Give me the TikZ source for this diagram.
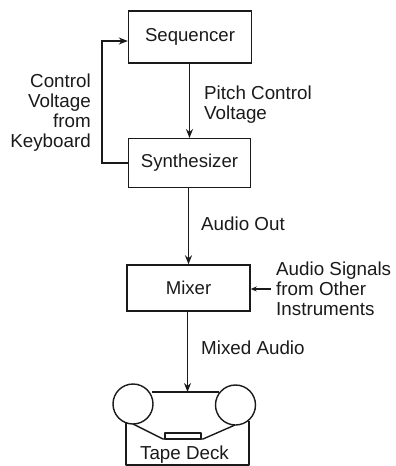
\documentclass[tikz,border=0pt]{standalone}
\usepackage{fontspec}
\setmainfont{Liberation Sans}
\usetikzlibrary{arrows.meta,calc}
\tikzset{
  boxnode/.style={draw=ink,line width=1.4pt,inner sep=0pt,font=\fontsize{18.6}{20}\selectfont,text=ink},
  lab/.style={inner sep=0pt,font=\fontsize{18.8}{20}\selectfont,text=ink,text depth=0pt},
  conn/.style={draw=ink,line width=1.4pt,-{Stealth[length=9pt,width=7pt]}},
  plain/.style={draw=ink,line width=1.4pt,line join=round},
}
\definecolor{ink}{HTML}{1A1A1A}
\begin{document}
\begin{tikzpicture}[x=1pt,y=-1pt]
\useasboundingbox (0,0) rectangle (396,466);
\node[boxnode,minimum width=123pt,minimum height=52pt] (seq) at (190,37) {Sequencer};
\node[boxnode,minimum width=122pt,minimum height=48.5pt] (syn) at (189.5,163) {Synthesizer};
\node[boxnode,minimum width=123pt,minimum height=46pt] (mix) at (188.5,288) {Mixer};
\draw[conn] (seq.south -| 189.5,0) -- (syn.north -| 189.5,0);
\draw[conn] (syn.south -| 188.5,0) -- (mix.north -| 188.5,0);
% tape deck
\node[draw=ink,line width=1.4pt,circle,minimum size=40pt,inner sep=0pt] (reelL) at (133,404) {};
\node[draw=ink,line width=1.4pt,circle,minimum size=40pt,inner sep=0pt] (reelR) at (235.5,405) {};
\coordinate (deckTL) at (126,423);
\coordinate (deckTR) at (249,421);
\coordinate (deckBL) at (126,465);
\coordinate (deckBR) at (249,465);
\coordinate (topL) at (152,392);
\coordinate (topR) at (219,392);
\coordinate (topM) at (187.5,392);
\draw[conn] (mix.south -| topM) -- (topM);
\draw[plain] (topL) -- (topR);
\draw[plain] (deckTL) -- (deckBL) -- (deckBR) -- (deckTR);
\coordinate (tapeA) at (133,424);
\coordinate (tapeB) at (163,439);
\coordinate (tapeC) at (203,439);
\coordinate (tapeD) at (235,425);
\draw[plain] (tapeA) -- (tapeB) -- (tapeC) -- (tapeD);
\coordinate (headA) at (165,439);
\coordinate (headB) at (201,433);
\draw[plain] (headA) rectangle (headB);
\node[lab] (tapelabel) at (184.5,453) {Tape Deck};
% feedback
\coordinate (fbA) at (102,163);
\coordinate (fbB) at (102,41);
\draw[conn] (syn.west) -- (fbA) -- (fbB) -- (fbB -| seq.west);
% mixer input
\coordinate (ext) at (271,289);
\draw[draw=ink,line width=1.4pt,-{Stealth[length=6pt,width=5pt]}] (ext) -- (mix.east |- ext);
% labels
\node[lab,anchor=east,align=right] (kbd) at (91,110.5) {Control\\Voltage\\from\\Keyboard};
\node[lab,anchor=west,align=left] (pitch) at (204,103) {Pitch Control\\Voltage};
\node[lab,anchor=west] (aout) at (201,224) {Audio Out};
\node[lab,anchor=west,align=left] (sig) at (276,288.5) {Audio Signals\\from Other\\Instruments};
\node[lab,anchor=west] (maudio) at (201,348) {Mixed Audio};
\end{tikzpicture}
\end{document}
